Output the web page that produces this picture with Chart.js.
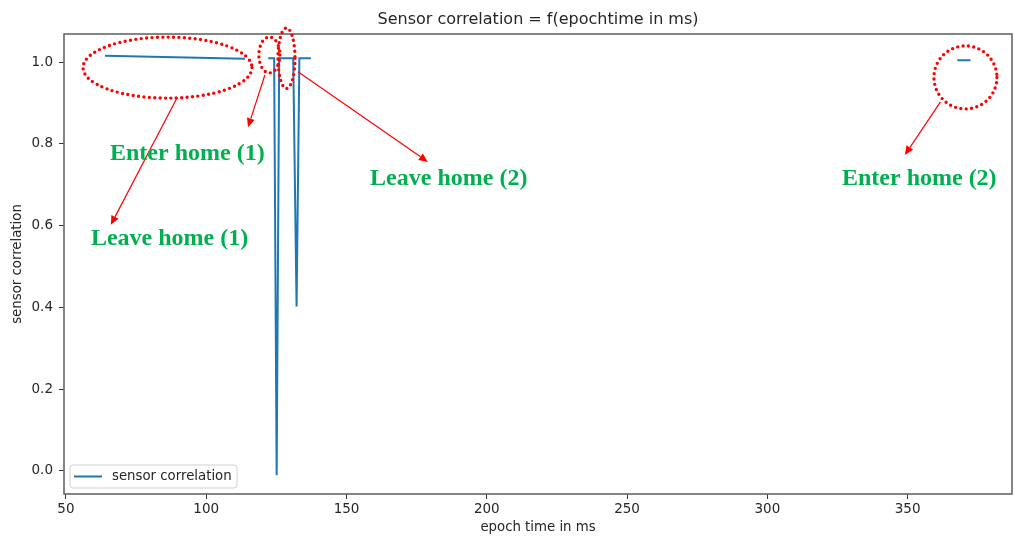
<!DOCTYPE html>
<html><head><meta charset="utf-8">
<script src="https://cdn.jsdelivr.net/npm/chart.js@4"></script>
<style>html,body{margin:0;padding:0;background:#fff}canvas{display:block}</style>
</head><body>
<canvas id="c" width="1015" height="536"></canvas>
<script>
// ---- data ----
const epochTime = [63.9, 113.8, 118.0, 122.1, 124.2, 125.1, 126.0, 131.0, 132.2, 133.2, 137.3, 250.0, 367.7, 372.4];
const sensorCorrelation = [1.016, 1.009, null, 1.010, 1.010, -0.011, 1.010, 1.010, 0.402, 1.010, 1.010, null, 1.005, 1.005];
const xTicks = [50, 100, 150, 200, 250, 300, 350];
const yTicks = [0.0, 0.2, 0.4, 0.6, 0.8, 1.0];
const seriesLabel = 'sensor correlation';
const titleText = 'Sensor correlation = f(epochtime in ms)';
const xLabel = 'epoch time in ms';
const yLabel = 'sensor correlation';

// ---- annotations (in data coordinates) ----
const ellipses = [
  {t: 86.2, v: 0.987, rt: 30.1, rv: 0.0747},
  {t: 122.5, v: 1.018, rt: 3.74, rv: 0.044},
  {t: 128.6, v: 1.010, rt: 3.03, rv: 0.074},
  {t: 370.6, v: 0.963, rt: 11.23, rv: 0.0771}
];
const arrows = [
  {t0: 89.6, v0: 0.913, t1: 66.0, v1: 0.602},
  {t0: 120.9, v0: 0.969, t1: 114.9, v1: 0.841},
  {t0: 132.7, v0: 0.977, t1: 179.0, v1: 0.756},
  {t0: 361.7, v0: 0.903, t1: 349.0, v1: 0.773}
];
const notes = [
  {text: 'Enter home (1)', t: 65.7, v: 0.777},
  {text: 'Leave home (1)', t: 58.9, v: 0.567},
  {text: 'Leave home (2)', t: 158.4, v: 0.714},
  {text: 'Enter home (2)', t: 326.6, v: 0.714}
];

const overlay = {
  id: 'overlay',
  afterDraw(chart) {
    const {ctx, chartArea: a, scales: {x, y}} = chart;
    ctx.save();
    // frame
    ctx.strokeStyle = '#666'; ctx.lineWidth = 1.6;
    ctx.strokeRect(a.left, a.top, a.right - a.left, a.bottom - a.top);
    // title & axis labels
    ctx.fillStyle = '#262626'; ctx.textAlign = 'center'; ctx.textBaseline = 'middle';
    ctx.font = '16px "DejaVu Sans"';
    ctx.fillText(titleText, (a.left + a.right) / 2, 20);
    ctx.font = '13.3px "DejaVu Sans"';
    ctx.fillText(xLabel, (a.left + a.right) / 2, 528);
    ctx.save(); ctx.translate(18, (a.top + a.bottom) / 2); ctx.rotate(-Math.PI / 2);
    ctx.fillText(yLabel, 0, 0); ctx.restore();
    // legend
    const lx = a.left + 6, ly = a.bottom - 29, lw = 167, lh = 23;
    ctx.beginPath(); ctx.roundRect(lx, ly, lw, lh, 3);
    ctx.fillStyle = 'rgba(255,255,255,0.8)'; ctx.fill();
    ctx.strokeStyle = '#d0d0d0'; ctx.lineWidth = 1; ctx.stroke();
    ctx.beginPath(); ctx.moveTo(lx + 4, ly + lh / 2); ctx.lineTo(lx + 32, ly + lh / 2);
    ctx.strokeStyle = '#1f77b4'; ctx.lineWidth = 2; ctx.stroke();
    ctx.fillStyle = '#262626'; ctx.textAlign = 'left';
    ctx.fillText(seriesLabel, lx + 42, ly + lh / 2 + 0.5);
    // ellipses
    ctx.strokeStyle = '#ff0000'; ctx.lineWidth = 3.4; ctx.lineCap = 'round'; ctx.setLineDash([0, 5.4]);
    ellipses.forEach(e => {
      const cx = x.getPixelForValue(e.t), cy = y.getPixelForValue(e.v);
      const rx = Math.abs(x.getPixelForValue(e.t + e.rt) - cx);
      const ry = Math.abs(y.getPixelForValue(e.v + e.rv) - cy);
      ctx.beginPath(); ctx.ellipse(cx, cy, rx, ry, 0, 0, Math.PI * 2); ctx.stroke();
    });
    ctx.setLineDash([]); ctx.lineCap = 'butt';
    // arrows
    ctx.strokeStyle = '#ff0000'; ctx.fillStyle = '#ff0000'; ctx.lineWidth = 1.2;
    arrows.forEach(r => {
      const x0 = x.getPixelForValue(r.t0), y0 = y.getPixelForValue(r.v0);
      const x1 = x.getPixelForValue(r.t1), y1 = y.getPixelForValue(r.v1);
      const ang = Math.atan2(y1 - y0, x1 - x0), L = 9, W = 4;
      const bx = x1 - L * Math.cos(ang), by = y1 - L * Math.sin(ang);
      ctx.beginPath(); ctx.moveTo(x0, y0); ctx.lineTo(bx, by); ctx.stroke();
      ctx.beginPath(); ctx.moveTo(x1, y1);
      ctx.lineTo(bx + W * Math.sin(ang), by - W * Math.cos(ang));
      ctx.lineTo(bx - W * Math.sin(ang), by + W * Math.cos(ang));
      ctx.closePath(); ctx.fill();
    });
    // notes
    ctx.fillStyle = '#00b050'; ctx.font = 'bold 24px "Liberation Serif"';
    ctx.textAlign = 'left'; ctx.textBaseline = 'middle';
    notes.forEach(n => ctx.fillText(n.text, x.getPixelForValue(n.t), y.getPixelForValue(n.v)));
    ctx.restore();
  }
};

const tickFont = {family: 'DejaVu Sans', size: 13.5};
new Chart(document.getElementById('c'), {
  type: 'line',
  data: {
    datasets: [{
      label: seriesLabel,
      data: epochTime.map((t, i) => ({x: t, y: sensorCorrelation[i]})),
      borderColor: '#1f77b4', borderWidth: 2, pointRadius: 0,
      tension: 0, spanGaps: false, fill: false
    }]
  },
  options: {
    responsive: false, animation: false, devicePixelRatio: 1,
    layout: {padding: {top: 34, right: 3, left: 0, bottom: 0}},
    plugins: {legend: {display: false}, title: {display: false}, tooltip: {enabled: false}},
    scales: {
      x: {
        type: 'linear', min: 49.3, max: 387.2,
        afterFit(s) { s.height = 42; },
        afterBuildTicks(s) { s.ticks = xTicks.map(v => ({value: v})); },
        grid: {drawOnChartArea: false, drawTicks: true, tickLength: 5, color: '#333'},
        border: {display: false},
        ticks: {padding: 2, color: '#262626', font: tickFont, maxRotation: 0, autoSkip: false}
      },
      y: {
        type: 'linear', min: -0.057, max: 1.0693,
        afterFit(s) { s.width = 64; },
        afterBuildTicks(s) { s.ticks = yTicks.map(v => ({value: v})); },
        grid: {drawOnChartArea: false, drawTicks: true, tickLength: 5, color: '#333'},
        border: {display: false},
        ticks: {padding: 6, color: '#262626', font: tickFont, autoSkip: false, callback: v => Number(v).toFixed(1)}
      }
    }
  },
  plugins: [overlay]
});
</script>
</body></html>
